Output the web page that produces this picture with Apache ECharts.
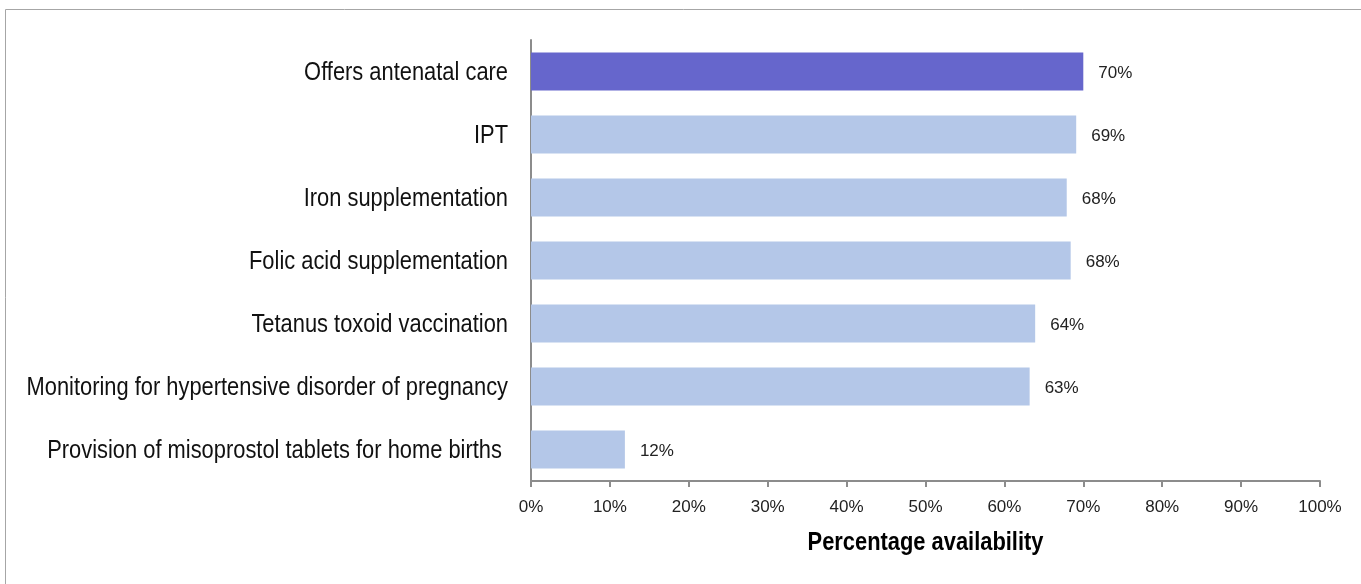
<!DOCTYPE html>
<html>
<head>
<meta charset="utf-8">
<script src="https://cdn.jsdelivr.net/npm/echarts@6/dist/echarts.min.js"></script>
<style>
  html, body { margin: 0; padding: 0; background: #fff; }
  #chart { width: 1361px; height: 584px; }
</style>
</head>
<body>
<div id="chart"></div>
<script>
// data
const categories = [
    'Offers antenatal care',
    'IPT',
    'Iron supplementation',
    'Folic acid supplementation',
    'Tetanus toxoid vaccination',
    'Monitoring for hypertensive disorder of pregnancy',
    'Provision of misoprostol tablets for home births '
];
const values = [70, 69.1, 67.9, 68.4, 63.9, 63.2, 11.9];
const labels = ['70%', '69%', '68%', '68%', '64%', '63%', '12%'];
const highlighted = 0;
const axisTitle = 'Percentage availability';

var chart = echarts.init(document.getElementById('chart'));
const font = '"Liberation Sans", Arial, sans-serif';
// no narrow font installed: squeeze the larger texts horizontally instead
const narrow = 0.875;

var option = {
    animation: false,
    grid: { left: 531, right: 41, top: 40, bottom: 103 },
    xAxis: {
        type: 'value',
        min: 0,
        max: 100,
        interval: 10,
        splitLine: { show: false },
        axisLine: { show: true, lineStyle: { color: '#8c8c8c', width: 2 } },
        axisTick: { show: true, length: 6, lineStyle: { color: '#8c8c8c', width: 2 } },
        axisLabel: { formatter: '{value}%', color: '#222', fontSize: 17, fontFamily: font, margin: 18 }
    },
    yAxis: {
        type: 'category',
        inverse: true,
        data: categories,
        axisLine: { show: true, lineStyle: { color: '#8c8c8c', width: 2 } },
        axisTick: { show: false },
        axisLabel: { show: false }
    },
    series: [{
        type: 'bar',
        barWidth: '60%',
        data: values.map((v, i) => ({
            value: v,
            itemStyle: { color: i === highlighted ? '#6666cc' : '#b4c7e8' }
        })),
        label: {
            show: true,
            position: 'right',
            distance: 15,
            offset: [0, 2],
            color: '#222',
            fontSize: 17,
            fontFamily: font,
            formatter: p => labels[p.dataIndex]
        }
    }]
};

chart.setOption(option);

// category labels and axis title, placed from the axes
const labelX = chart.convertToPixel({ gridIndex: 0 }, [0, 0])[0] - 23;
const graphics = [{
    type: 'rect',
    shape: { x: 5.5, y: 9.5, width: 1400, height: 600 },
    style: { fill: 'none', stroke: '#a6a6a6', lineWidth: 1 },
    z: -1
}];
categories.forEach((c, i) => {
    graphics.push({
        type: 'text',
        x: labelX,
        y: chart.convertToPixel({ yAxisIndex: 0 }, i) + 2,
        scaleX: narrow,
        style: {
            text: c, fill: '#111', fontSize: 25, fontFamily: font,
            align: 'right', verticalAlign: 'middle'
        }
    });
});
const mid = (chart.convertToPixel({ xAxisIndex: 0 }, 0) + chart.convertToPixel({ xAxisIndex: 0 }, 100)) / 2;
graphics.push({
    type: 'text',
    x: mid,
    y: 543,
    scaleX: narrow,
    style: {
        text: axisTitle, fill: '#000', fontSize: 25, fontWeight: 'bold', fontFamily: font,
        align: 'center', verticalAlign: 'middle'
    }
});
chart.setOption({ graphic: graphics });

window.addEventListener('resize', chart.resize);
</script>
</body>
</html>
